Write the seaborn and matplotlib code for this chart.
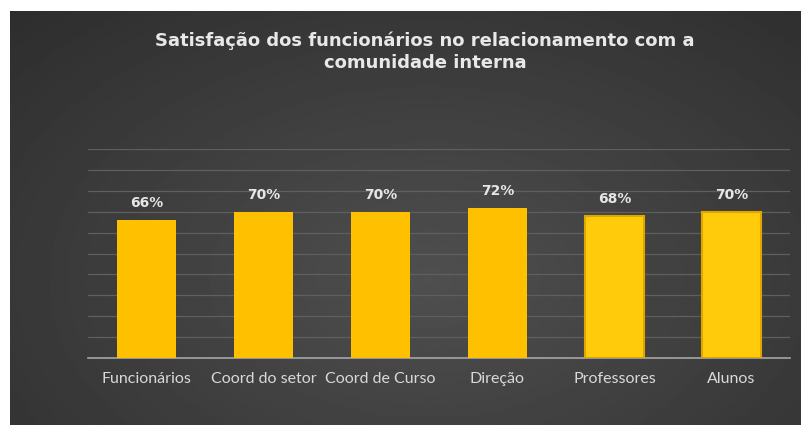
"""Satisfação dos funcionários no relacionamento com a comunidade interna"""

import numpy as np
import pandas as pd
import seaborn as sns
import matplotlib.pyplot as plt

categories = ['Funcionários', 'Coord do setor', 'Coord de Curso',
              'Direção', 'Professores', 'Alunos']
satisfaction = [0.66, 0.70, 0.70, 0.72, 0.68, 0.70]
title = 'Satisfação dos funcionários no relacionamento com a\ncomunidade interna'

df = pd.DataFrame({'grupo': categories, 'satisfacao': satisfaction})

sns.set_style('dark')
plt.rcParams['font.family'] = ['Lato', 'DejaVu Sans']

W, H = 803, 425
fig = plt.figure(figsize=(W / 100, H / 100), dpi=100, facecolor='white')

# dark radial gradient panel
bg = fig.add_axes([10 / W, 0, (801 - 10) / W, (425 - 11) / H], zorder=0)
yy, xx = np.mgrid[0:1:200j, 0:1:400j]
r = np.sqrt(((xx - 0.53) / 0.75) ** 2 + ((yy - 0.35) / 0.9) ** 2)
shade = np.clip(0.31 - 0.13 * r, 0.17, 0.31)
bg.imshow(shade, cmap='gray', vmin=0, vmax=1, aspect='auto',
          extent=[0, 1, 0, 1], origin='lower', interpolation='bilinear')
bg.set_axis_off()

ax = fig.add_axes([88 / W, 67 / H, (790 - 88) / W, (358 - 149) / H], zorder=1)
ax.patch.set_alpha(0)
sns.barplot(data=df, x='grupo', y='satisfacao', ax=ax, color='#FFC000',
            width=0.5, saturation=1, zorder=3, edgecolor='none', linewidth=0)

# bevelled look on the last two bars
for p in ax.patches[4:]:
    p.set_facecolor('#FFCB0A')
    p.set_edgecolor('#E0A600')
    p.set_linewidth(1.5)

ax.set_ylim(0, 1)
ax.set_yticks(np.arange(0, 1.01, 0.1))
ax.set_yticklabels([])
ax.tick_params(axis='y', length=0)
ax.tick_params(axis='x', length=0, pad=10, labelsize=11.5, colors='#D9D9D9')
ax.grid(axis='y', color='#5F5F5F', linewidth=0.9, zorder=0)
ax.grid(axis='x', visible=False)
for side in ['top', 'right', 'left']:
    ax.spines[side].set_visible(False)
ax.spines['bottom'].set_color('#A6A6A6')
ax.spines['bottom'].set_linewidth(1.2)
ax.set_xlabel('')
ax.set_ylabel('')

for p, val in zip(ax.patches, satisfaction):
    ax.annotate(f'{val:.0%}', (p.get_x() + p.get_width() / 2, p.get_height()),
                xytext=(0, 7), textcoords='offset points', ha='center',
                va='bottom', fontsize=10, fontweight='bold', color='#E6E6E6',
                family=['DejaVu Sans'])

fig.text(425 / W, 1 - 52 / H, title, ha='center', va='center',
         fontsize=13, fontweight='bold', color='#E8E8E8',
         linespacing=1.3, family=['DejaVu Sans'])

plt.savefig('out.png', dpi=100, facecolor='white')
